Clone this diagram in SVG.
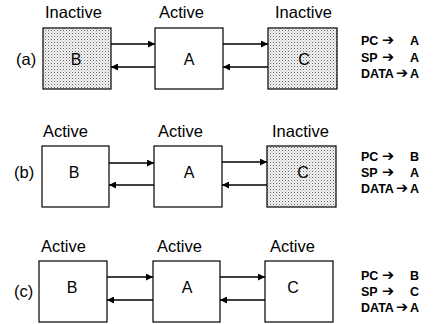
<svg xmlns="http://www.w3.org/2000/svg" width="433" height="324" viewBox="0 0 433 324">
<defs>
<pattern id="dots" width="3" height="3" patternUnits="userSpaceOnUse">
<rect width="3" height="3" fill="#f4f4f4"/>
<rect x="0" y="0" width="1" height="1" fill="#666"/>
<rect x="1.5" y="1.5" width="1" height="1" fill="#aaa"/>
</pattern>
<marker id="ah" viewBox="0 0 8 8" refX="8" refY="4" markerWidth="7" markerHeight="7" markerUnits="userSpaceOnUse" orient="auto">
<path d="M0,0 L8,4 L0,8 Z" fill="#000"/>
</marker>
<style>
.box{fill:#fff;stroke:#000;stroke-width:1.2}
.off{fill:url(#dots);stroke:#000;stroke-width:1.2}
.lbl{font-family:"Liberation Sans",Arial,sans-serif;font-size:16.5px;fill:#000}
.let{font-family:"Liberation Sans",Arial,sans-serif;font-size:16px;fill:#000;text-anchor:middle}
.reg{font-family:"Liberation Sans",Arial,sans-serif;font-size:12.5px;font-weight:bold;fill:#000}
.ar{font-family:"DejaVu Sans",sans-serif;font-size:14.5px;font-weight:bold}
.cn{stroke:#000;stroke-width:1.3;fill:none;marker-end:url(#ah)}
</style>
</defs>

<!-- Row (a) -->
<text class="lbl" x="16" y="65">(a)</text>
<g id="a-B"><text class="lbl" x="45" y="18">Inactive</text><rect class="off" x="43" y="28" width="68" height="61"/><text class="let" x="76" y="65">B</text></g>
<g id="a-A"><text class="lbl" x="159" y="18">Active</text><rect class="box" x="155" y="28" width="68" height="61"/><text class="let" x="189" y="65">A</text></g>
<g id="a-C"><text class="lbl" x="275" y="18">Inactive</text><rect class="off" x="268" y="28" width="69" height="61"/><text class="let" x="304" y="65">C</text></g>
<g id="a-regs" class="reg">
<text x="361" y="45">PC<tspan class="ar" x="382">➔</tspan><tspan x="410">A</tspan></text>
<text x="361" y="62">SP<tspan class="ar" x="382">➔</tspan><tspan x="410">A</tspan></text>
<text x="361" y="78">DATA<tspan class="ar" x="396">➔</tspan><tspan x="410">A</tspan></text>
</g>

<!-- Row (b) -->
<text class="lbl" x="14" y="178">(b)</text>
<g id="b-B"><text class="lbl" x="43" y="137">Active</text><rect class="box" x="42" y="146" width="67" height="61"/><text class="let" x="74" y="178">B</text></g>
<g id="b-A"><text class="lbl" x="158" y="137">Active</text><rect class="box" x="154" y="146" width="68" height="61"/><text class="let" x="189" y="178">A</text></g>
<g id="b-C"><text class="lbl" x="272" y="137">Inactive</text><rect class="off" x="267" y="146" width="69" height="61"/><text class="let" x="303" y="178">C</text></g>
<g id="b-regs" class="reg">
<text x="361" y="161">PC<tspan class="ar" x="382">➔</tspan><tspan x="410">B</tspan></text>
<text x="361" y="177">SP<tspan class="ar" x="382">➔</tspan><tspan x="410">A</tspan></text>
<text x="361" y="193">DATA<tspan class="ar" x="396">➔</tspan><tspan x="410">A</tspan></text>
</g>

<!-- Row (c) -->
<text class="lbl" x="14" y="297">(c)</text>
<g id="c-B"><text class="lbl" x="41" y="252">Active</text><rect class="box" x="39" y="261" width="68" height="61"/><text class="let" x="72" y="293">B</text></g>
<g id="c-A"><text class="lbl" x="157" y="252">Active</text><rect class="box" x="153" y="261" width="67" height="61"/><text class="let" x="187" y="293">A</text></g>
<g id="c-C"><text class="lbl" x="270" y="252">Active</text><rect class="box" x="265" y="261" width="68" height="61"/><text class="let" x="293" y="293">C</text></g>
<g id="c-regs" class="reg">
<text x="361" y="280">PC<tspan class="ar" x="382">➔</tspan><tspan x="410">B</tspan></text>
<text x="361" y="296">SP<tspan class="ar" x="382">➔</tspan><tspan x="410">C</tspan></text>
<text x="361" y="312">DATA<tspan class="ar" x="396">➔</tspan><tspan x="410">A</tspan></text>
</g>

<g id="connectors">
<line class="cn" x1="111" y1="44" x2="155" y2="44"/>
<line class="cn" x1="155" y1="67" x2="111" y2="67"/>
<line class="cn" x1="223" y1="44" x2="268" y2="44"/>
<line class="cn" x1="268" y1="67" x2="223" y2="67"/>
<line class="cn" x1="109" y1="163" x2="154" y2="163"/>
<line class="cn" x1="154" y1="185" x2="109" y2="185"/>
<line class="cn" x1="222" y1="162" x2="267" y2="162"/>
<line class="cn" x1="267" y1="185" x2="222" y2="185"/>
<line class="cn" x1="107" y1="277" x2="153" y2="277"/>
<line class="cn" x1="153" y1="300" x2="107" y2="300"/>
<line class="cn" x1="220" y1="277" x2="265" y2="277"/>
<line class="cn" x1="265" y1="300" x2="220" y2="300"/>
</g>
</svg>
